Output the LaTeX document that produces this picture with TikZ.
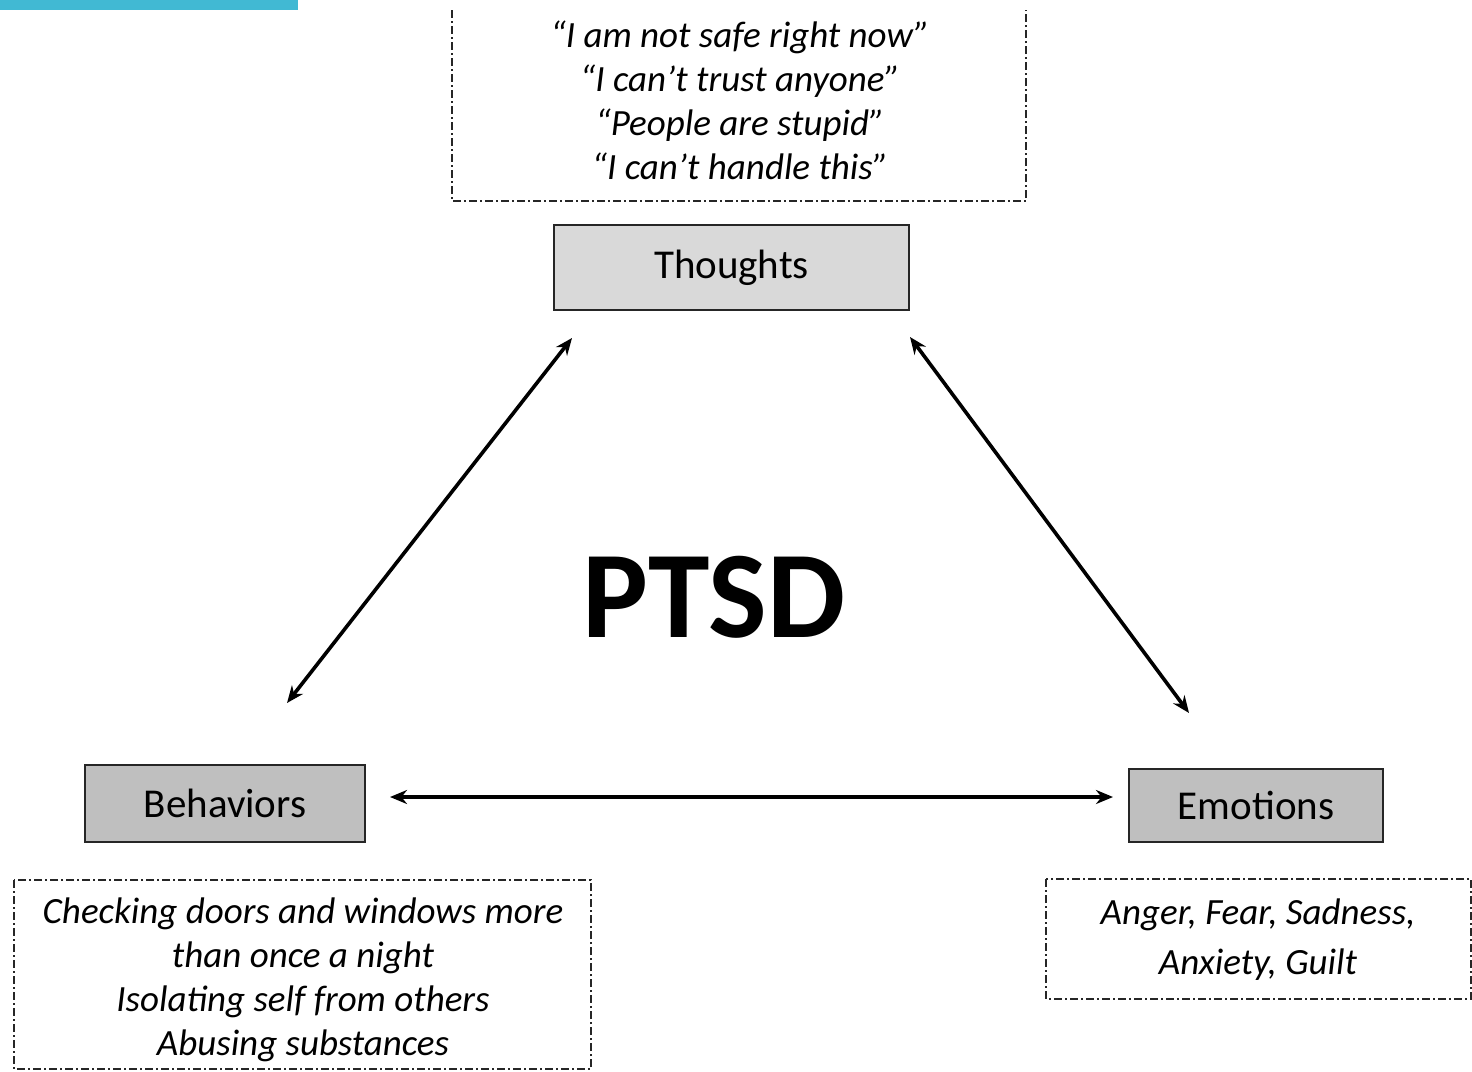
\documentclass[tikz,border=0pt]{standalone}
\usepackage{fontspec}
\setmainfont{Carlito}
\usetikzlibrary{arrows.meta}
\definecolor{barcyan}{HTML}{41B9D3}
\definecolor{lightfill}{HTML}{D9D9D9}
\definecolor{midfill}{HTML}{BFBFBF}
\definecolor{edge}{HTML}{262626}

\begin{document}
\begin{tikzpicture}[x=1pt,y=-1pt,
  catbox/.style={draw=edge, line width=2pt, inner sep=0pt,
    font=\fontsize{41}{49}\selectfont},
  notebox/.style={draw=edge, line width=1.8pt,
    dash pattern=on 8pt off 3pt on 2pt off 3pt},
  notetext/.style={align=center, inner sep=0pt,
    font=\itshape\fontsize{37}{44}\selectfont},
  link/.style={line width=3.6pt,
    {Stealth[length=17pt,width=14pt]}-{Stealth[length=17pt,width=14pt]}}
]
\clip (0,0) rectangle (1472,1071);
\fill[white] (0,0) rectangle (1472,1071);

% accent bar in the top-left corner
\fill[barcyan] (0,0) rectangle (298,10);

% dashed note frames (the upper one runs off the top edge)
\draw[notebox] (452,10) -- (452,201) -- (1026,201) -- (1026,10);
\draw[notebox] (14,880) rectangle (591,1069);
\draw[notebox] (1046,879) rectangle (1471,999);

% example thoughts, behaviours and emotions
\node[notetext] (thoughtnotes) at (740,100)
  {“I am not safe right now”\\“I can’t trust anyone”\\“People are stupid”\\“I can’t handle this”};
\node[notetext] (behavnotes) at (303,980)
  {Checking doors and windows more\\than once a night\\Isolating self from others\\Abusing substances};
\node[notetext, font=\itshape\fontsize{37}{50}\selectfont] (emonotes) at (1258,940)
  {Anger, Fear, Sadness,\\Anxiety, Guilt};

% the three linked categories
\node[catbox, fill=lightfill, minimum width=355pt, minimum height=85pt] (thoughts) at (731.5,267.5) {\raisebox{1.5pt}{Thoughts}};
\node[catbox, fill=midfill, minimum width=280pt, minimum height=77pt] (behaviors) at (225,803.5) {Behaviors};
\node[catbox, fill=midfill, minimum width=254pt, minimum height=73pt] (emotions) at (1256,805.5) {Emotions};

% centre title
\node[font=\bfseries\fontsize{124}{130}\selectfont, inner sep=0pt] (ptsd) at (714,597) {PTSD};

% arrow end points, kept clear of the boxes
\coordinate (thoughtsL) at (572,338);
\coordinate (thoughtsR) at (910,337);
\coordinate (behavT) at (287,703);
\coordinate (behavR) at (390,797);
\coordinate (emoT) at (1189,713);
\coordinate (emoL) at (1113,797);

\draw[link] (thoughtsL) -- (behavT);
\draw[link] (thoughtsR) -- (emoT);
\draw[link] (behavR) -- (emoL);
\end{tikzpicture}
\end{document}
